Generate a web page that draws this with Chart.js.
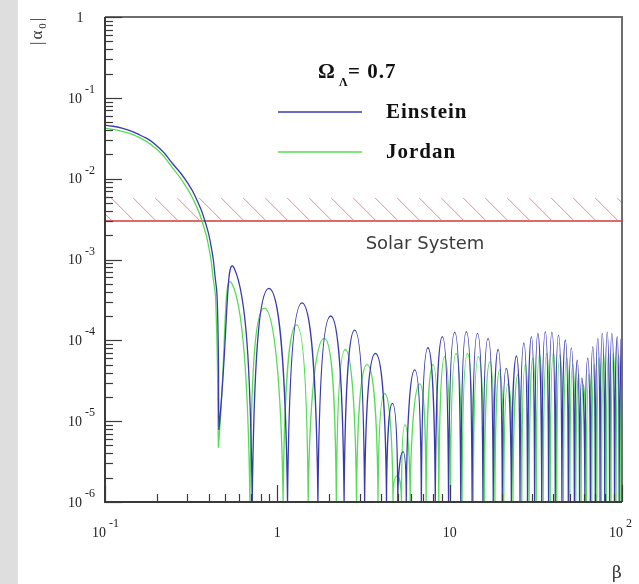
<!DOCTYPE html>
<html>
<head>
<meta charset="utf-8">
<script src="https://cdn.jsdelivr.net/npm/chart.js@4.4.1/dist/chart.umd.min.js"></script>
<style>
  html, body { margin: 0; padding: 0; background: #fff; }
  canvas { display: block; }
</style>
</head>
<body>
<canvas id="alphaChart" width="639" height="584"></canvas>
<script>
// |alpha_0| against beta, Einstein and Jordan frames (Omega_Lambda = 0.7)

const yFloor = 1e-6;
const yCeil = 1;

// Einstein frame: falling branch, then zeros (with the depth reached) and lobe tops
// a depth of 1e-20 stands for a zero that drops off the bottom of the plot
const einsteinHeadX = [0.1, 0.127, 0.1595, 0.2002, 0.2478, 0.2988, 0.3414, 0.3799, 0.4116, 0.4343, 0.449];
const einsteinHeadY = [0.0461, 0.0418, 0.0347, 0.0254, 0.0152, 9.1e-3, 5.45e-3, 2.99e-3, 1.51e-3, 6.43e-4, 2.73e-4];
const einsteinZeroX = [0.458, 0.715, 1.146, 1.72, 2.44, 3.21, 4.3, 5.0, 5.6, 6.85, 8.25, 9.85,
  11.6, 13.5, 15.6, 17.9, 20.2, 22.8, 25.6, 28.3, 31.1, 34.2, 37.5, 41.0, 44.8, 48.8, 52.9,
  56.7, 60.9, 65.5, 70.0, 74.6, 79.4, 84.7, 90.5, 96.3];
const einsteinZeroY = [7.8e-6, 1e-20, 1e-20, 1e-20, 1e-20, 1e-20, 1e-20, 1e-20, 1e-20, 1e-20,
  1e-20, 1e-20, 1e-20, 1e-20, 1e-20, 1e-20, 1e-20, 1e-20, 1e-20, 1e-20, 1e-20, 1e-20, 1e-20,
  1e-20, 1e-20, 1e-20, 1e-20, 1e-20, 1e-20, 1e-20, 1e-20, 1e-20, 1e-20, 1e-20, 1e-20, 1e-20];
const einsteinPeakX = [0.562, 0.893, 1.39, 2.04, 2.81, 3.71, 4.65, 5.36, 6.27, 7.48, 9.07, 10.7,
  12.5, 14.5, 16.7, 19.1, 21.3, 24.4, 26.96, 29.8, 32.5, 35.9, 39.2, 42.8, 46.9, 50.8, 55.0,
  58.5, 63.3, 67.7, 72.4, 76.8, 82.1, 87.3, 93.8, 98.9];
const einsteinPeakY = [7.8e-4, 4.4e-4, 2.9e-4, 2.0e-4, 1.34e-4, 6.9e-5, 1.66e-5, 4.2e-6, 4.3e-5,
  8.1e-5, 1.11e-4, 1.26e-4, 1.28e-4, 1.22e-4, 1.06e-4, 7.7e-5, 4.5e-5, 6.4e-5, 9.2e-5, 1.11e-4,
  1.22e-4, 1.28e-4, 1.26e-4, 1.16e-4, 1.01e-4, 8.0e-5, 5.7e-5, 3.4e-5, 6.0e-5, 8.3e-5, 1.06e-4,
  1.22e-4, 1.26e-4, 1.22e-4, 1.11e-4, 1.01e-4];
const einsteinEnd = [100, 9e-5];

// Jordan frame
const jordanHeadX = [0.1, 0.127, 0.1595, 0.2002, 0.2445, 0.2909, 0.3324, 0.3699, 0.4008, 0.4227, 0.44];
const jordanHeadY = [0.0423, 0.0383, 0.0319, 0.0229, 0.0139, 8.35e-3, 5.0e-3, 2.75e-3, 1.39e-3, 6.25e-4, 2.73e-4];
const jordanZeroX = [0.455, 0.693, 1.08, 1.51, 2.2, 2.88, 3.84, 4.69, 5.25, 5.9, 7.3, 8.65, 10.1,
  11.8, 13.7, 15.9, 18.3, 20.6, 23.3, 26.2, 28.9, 31.8, 34.9, 38.3, 41.8, 45.7, 49.8, 53.9, 57.9,
  62.1, 66.7, 71.4, 76.0, 81.0, 86.3, 92.3, 98.5];
const jordanZeroY = [4.7e-6, 1e-20, 1e-20, 1e-20, 1e-20, 1e-20, 1e-20, 1e-20, 1e-20, 1e-20, 1e-20,
  1e-20, 1e-20, 1e-20, 1e-20, 1e-20, 1e-20, 1e-20, 1e-20, 1e-20, 1e-20, 1e-20, 1e-20, 1e-20, 1e-20,
  1e-20, 1e-20, 1e-20, 1e-20, 1e-20, 1e-20, 1e-20, 1e-20, 1e-20, 1e-20, 1e-20, 1e-20];
const jordanPeakX = [0.543, 0.839, 1.29, 1.87, 2.48, 3.32, 4.2, 4.95, 5.5, 6.7, 8.0, 9.35, 10.9,
  12.7, 14.7, 17.1, 19.5, 21.8, 24.9, 27.5, 30.4, 33.2, 36.6, 40.0, 43.6, 47.8, 51.8, 56.1, 59.7,
  64.5, 69.0, 73.8, 78.3, 83.7, 89.0, 95.6];
const jordanPeakY = [5.1e-4, 2.5e-4, 1.55e-4, 1.06e-4, 7.7e-5, 5.0e-5, 2.2e-5, 2.1e-6, 9e-6, 2.9e-5,
  5.0e-5, 6.3e-5, 6.9e-5, 6.9e-5, 6.3e-5, 5.4e-5, 4.3e-5, 2.9e-5, 3.8e-5, 5.0e-5, 6.0e-5, 6.6e-5,
  6.9e-5, 6.9e-5, 6.6e-5, 6.0e-5, 5.0e-5, 3.8e-5, 2.8e-5, 3.8e-5, 5.0e-5, 6.0e-5, 6.6e-5, 6.9e-5,
  6.9e-5, 6.6e-5];
const jordanEnd = [100, 3e-5];

// Solar System bound and the excluded band above it
const solarLimit = 3.0e-3;
const solarBandTop = 5.8e-3;

// axis tick labels: [mantissa, exponent]
const xTickValues = [0.1, 1, 10, 100];
const xTickLabels = [['10', '-1'], ['1', ''], ['10', ''], ['10', '2']];
const yTickValues = [1, 1e-1, 1e-2, 1e-3, 1e-4, 1e-5, 1e-6];
const yTickLabels = [['1', ''], ['10', '-1'], ['10', '-2'], ['10', '-3'], ['10', '-4'], ['10', '-5'], ['10', '-6']];

const blue = '#3a3ab0';
const green = '#55dd55';

function buildCurve(headX, headY, zeroX, zeroY, peakX, peakY, end) {
  const pts = headX.map((x, i) => ({x: x, y: headY[i]}));
  zeroX.forEach((z, i) => {
    if (zeroY[i] >= yFloor) {
      // dip stays on the plot: doubled point keeps a sharp notch
      pts.push({x: z, y: zeroY[i]}, {x: z, y: zeroY[i]});
    } else {
      // dip leaves through the floor and comes back at the same beta
      pts.push({x: z, y: yFloor}, {x: z, y: zeroY[i]}, {x: z, y: yFloor});
    }
    if (i < peakX.length) pts.push({x: peakX[i], y: peakY[i]});
  });
  pts.push({x: end[0], y: end[1]});
  return pts;
}

function drawPower(ctx, base, exp, x, y) {
  ctx.font = '14px "Liberation Serif", serif';
  ctx.textBaseline = 'middle';
  if (!exp) {
    ctx.textAlign = 'center';
    ctx.fillText(base, x, y);
    return;
  }
  ctx.textAlign = 'right';
  ctx.fillText(base, x, y);
  ctx.font = '12px "Liberation Serif", serif';
  ctx.textAlign = 'left';
  ctx.fillText(exp, x + 3, y - 9);
}

const decor = {
  id: 'decor',
  beforeDraw(chart) {
    const ctx = chart.ctx;
    ctx.save();
    ctx.fillStyle = '#ffffff';
    ctx.fillRect(0, 0, chart.width, chart.height);
    ctx.fillStyle = '#dedede';
    ctx.fillRect(0, 0, 18, chart.height);
    ctx.restore();
  },
  beforeDatasetsDraw(chart) {
    const {ctx, chartArea: a, scales: {y}} = chart;
    const top = y.getPixelForValue(solarBandTop);
    const lim = y.getPixelForValue(solarLimit);
    const h = lim - top;
    ctx.save();
    ctx.beginPath();
    ctx.rect(a.left, top, a.right - a.left, h);
    ctx.clip();
    ctx.strokeStyle = '#e58a8a';
    ctx.lineWidth = 1;
    for (let x = a.left + 6 - 44; x < a.right; x += 22) {
      ctx.beginPath();
      ctx.moveTo(x, top);
      ctx.lineTo(x + h, lim);
      ctx.stroke();
    }
    ctx.restore();
    ctx.save();
    ctx.strokeStyle = '#e06a6a';
    ctx.lineWidth = 2;
    ctx.beginPath();
    ctx.moveTo(a.left, lim);
    ctx.lineTo(a.right, lim);
    ctx.stroke();
    ctx.restore();
  },
  afterDraw(chart) {
    const {ctx, chartArea: a, scales: {x, y}} = chart;
    ctx.save();

    // frame
    ctx.lineWidth = 2;
    ctx.strokeStyle = '#6e6e6e';
    ctx.beginPath();
    ctx.moveTo(a.left, a.top); ctx.lineTo(a.right, a.top); ctx.lineTo(a.right, a.bottom);
    ctx.stroke();
    ctx.strokeStyle = '#3a3a3a';
    ctx.beginPath();
    ctx.moveTo(a.left, a.top); ctx.lineTo(a.left, a.bottom); ctx.lineTo(a.right, a.bottom);
    ctx.stroke();

    // inward ticks, long at decades
    ctx.lineWidth = 1.2;
    for (let d = -6; d <= 0; d++) {
      for (let k = 1; k <= 9; k++) {
        const v = k * Math.pow(10, d);
        if (v > yCeil) break;
        const py = Math.round(y.getPixelForValue(v)) + 0.5;
        ctx.beginPath();
        ctx.moveTo(a.left, py);
        ctx.lineTo(a.left + (k === 1 ? 17 : 8), py);
        ctx.stroke();
      }
    }
    for (let d = -1; d <= 2; d++) {
      for (let k = 1; k <= 9; k++) {
        const v = k * Math.pow(10, d);
        if (v > 100) break;
        const px = Math.round(x.getPixelForValue(v)) + 0.5;
        ctx.beginPath();
        ctx.moveTo(px, a.bottom);
        ctx.lineTo(px, a.bottom - (k === 1 ? 17 : 8));
        ctx.stroke();
      }
    }

    // tick labels
    ctx.fillStyle = '#222';
    yTickValues.forEach((v, i) => {
      const [b, e] = yTickLabels[i];
      const py = y.getPixelForValue(v);
      drawPower(ctx, b, e, e ? 82 : 80, py + 1);
    });
    xTickValues.forEach((v, i) => {
      const [b, e] = xTickLabels[i];
      const px = x.getPixelForValue(v);
      drawPower(ctx, b, e, e ? px + 1 : px, 533);
    });

    // axis titles
    ctx.fillStyle = '#333';
    ctx.font = '17px "DejaVu Serif", serif';
    ctx.textAlign = 'center';
    ctx.textBaseline = 'middle';
    ctx.fillText('\u03B2', 617, 574);

    ctx.save();
    ctx.translate(38, 45);
    ctx.rotate(-Math.PI / 2);
    ctx.textAlign = 'left';
    ctx.textBaseline = 'middle';
    ctx.letterSpacing = '2px';
    ctx.font = '17px "Liberation Serif", serif';
    ctx.fillText('|\u03B1', 0, 0);
    let w = ctx.measureText('|\u03B1').width;
    ctx.font = '11px "Liberation Serif", serif';
    ctx.fillText('0', w, 5);
    w += ctx.measureText('0').width;
    ctx.font = '17px "Liberation Serif", serif';
    ctx.fillText('|', w, 0);
    ctx.letterSpacing = '0px';
    ctx.restore();

    // Solar System note
    ctx.fillStyle = '#3c3c3c';
    ctx.font = '18px "DejaVu Sans", sans-serif';
    ctx.textAlign = 'center';
    ctx.fillText('Solar System', 425, 244);

    // legend
    ctx.fillStyle = '#111';
    ctx.textAlign = 'left';
    ctx.letterSpacing = '1px';
    ctx.font = 'bold 21px "Liberation Serif", serif';
    ctx.fillText('\u03A9', 318, 73);
    ctx.font = 'bold 12px "Liberation Serif", serif';
    ctx.fillText('\u039B', 339, 83);
    ctx.font = 'bold 21px "Liberation Serif", serif';
    ctx.fillText('= 0.7', 348, 73);
    ctx.fillText('Einstein', 386, 113);
    ctx.fillText('Jordan', 386, 153);
    ctx.letterSpacing = '0px';

    ctx.lineWidth = 1.5;
    ctx.strokeStyle = blue;
    ctx.beginPath(); ctx.moveTo(278, 112); ctx.lineTo(362, 112); ctx.stroke();
    ctx.strokeStyle = green;
    ctx.beginPath(); ctx.moveTo(278, 152); ctx.lineTo(362, 152); ctx.stroke();

    ctx.restore();
  }
};

new Chart(document.getElementById('alphaChart'), {
  type: 'line',
  data: {
    datasets: [
      {
        label: 'Einstein',
        data: buildCurve(einsteinHeadX, einsteinHeadY, einsteinZeroX, einsteinZeroY,
          einsteinPeakX, einsteinPeakY, einsteinEnd),
        borderColor: blue, borderWidth: 1.3, pointRadius: 0, tension: 0.6, clip: 0
      },
      {
        label: 'Jordan',
        data: buildCurve(jordanHeadX, jordanHeadY, jordanZeroX, jordanZeroY,
          jordanPeakX, jordanPeakY, jordanEnd),
        borderColor: green, borderWidth: 1.3, pointRadius: 0, tension: 0.6, clip: 0
      }
    ]
  },
  options: {
    responsive: false,
    devicePixelRatio: 1,
    animation: false,
    events: [],
    layout: { padding: { left: 105, top: 17, right: 17, bottom: 82 } },
    plugins: { legend: { display: false }, tooltip: { enabled: false } },
    scales: {
      x: {
        type: 'logarithmic', min: 0.1, max: 100,
        ticks: { display: false }, grid: { display: false }, border: { display: false },
        afterFit(s) { s.height = 0; }
      },
      y: {
        type: 'logarithmic', min: yFloor, max: yCeil,
        ticks: { display: false }, grid: { display: false }, border: { display: false },
        afterFit(s) { s.width = 0; }
      }
    }
  },
  plugins: [decor]
});
</script>
</body>
</html>
